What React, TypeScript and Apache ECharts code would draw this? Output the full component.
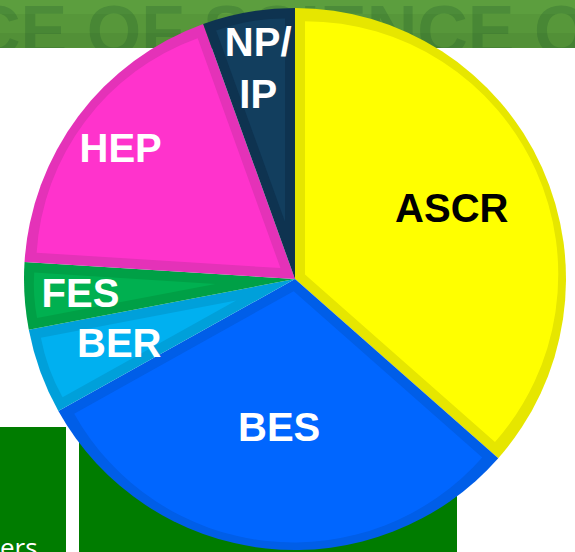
import React, { useEffect, useRef } from 'react';
import * as echarts from 'echarts';

// ---- data ----
const CATEGORIES = ['ASCR', 'BES', 'BER', 'FES', 'HEP', 'NP/IP'];
const SHARES = [36.5, 30.4, 5.1, 4.0, 18.5, 5.5];
const DISPLAY_LABELS = ['ASCR', 'BES', 'BER', 'FES', 'HEP', 'NP/\nIP'];

// ---- styles ----
const FILL = ['#ffff00', '#0066ff', '#00b0f0', '#00b050', '#ff33cc', '#123e5e'];
const EDGE = ['#e6e600', '#005ee8', '#00a0da', '#00a046', '#e432b8', '#0e3350'];
const LABEL_COLOR = ['#000000', '#ffffff', '#ffffff', '#ffffff', '#ffffff', '#ffffff'];
const LABEL_RADIUS = [169, 146, 184, 212, 215, 211];
const LABEL_LINE_HEIGHT = [42, 42, 42, 42, 42, 52];

const CX = 295;
const CY = 279;
const R = 271;
const BORDER = 10;
const FONT = "'Liberation Sans', Arial, sans-serif";

function buildOption() {
  const total = SHARES.reduce((a, b) => a + b, 0);

  const base = {
    type: 'pie',
    silent: true,
    z: 2,
    center: [CX, CY],
    radius: [0, R],
    startAngle: 90,
    clockwise: true,
    label: { show: false },
    labelLine: { show: false },
    emphasis: { disabled: true },
    itemStyle: { borderWidth: 0 },
    data: SHARES.map((v, i) => ({ name: CATEGORIES[i], value: v, itemStyle: { color: EDGE[i] } })),
  };

  let cum = 0;
  const insets = SHARES.map((v, i) => {
    const a0 = (360 * cum) / total;
    const sweep = (360 * v) / total;
    cum += v;
    const half = ((sweep / 2) * Math.PI) / 180;
    const mid = ((a0 + sweep / 2) * Math.PI) / 180;
    const s = BORDER / Math.sin(half);
    const rr = R - BORDER - (s * (1 + Math.cos(half))) / 2;
    return {
      type: 'pie',
      silent: true,
      z: 3,
      center: [CX + s * Math.sin(mid), CY - s * Math.cos(mid)],
      radius: [0, rr],
      startAngle: 90 - a0,
      clockwise: true,
      label: { show: false },
      labelLine: { show: false },
      emphasis: { disabled: true },
      itemStyle: { borderWidth: 0 },
      data: [
        { name: CATEGORIES[i], value: v, itemStyle: { color: FILL[i] } },
        { name: 'rest', value: total - v, itemStyle: { color: 'rgba(0,0,0,0)' } },
      ],
    };
  });

  const labels = SHARES.map((_, i) => ({
    type: 'pie',
    silent: true,
    z: 4,
    center: [CX, CY],
    radius: [LABEL_RADIUS[i] - 1, LABEL_RADIUS[i] + 1],
    startAngle: 90,
    clockwise: true,
    labelLine: { show: false },
    emphasis: { disabled: true },
    itemStyle: { color: 'rgba(0,0,0,0)', borderWidth: 0 },
    data: SHARES.map((w, j) => ({
      name: CATEGORIES[j],
      value: w,
      label: {
        show: j === i,
        position: 'inside',
        rotate: 0,
        formatter: DISPLAY_LABELS[j],
        color: LABEL_COLOR[j],
        fontSize: 40,
        fontWeight: 'bold',
        fontFamily: FONT,
        lineHeight: LABEL_LINE_HEIGHT[j],
        textBorderWidth: 0,
      },
    })),
  }));

  const graphic = [
    { type: 'rect', z: 0, shape: { x: 0, y: 0, width: 575, height: 48 }, style: { fill: '#5c9e3e' } },
    {
      type: 'text',
      z: 0,
      x: -30,
      y: 31,
      style: {
        text: 'CE OF SCIENCE O',
        font: `bold 70px ${FONT}`,
        fill: '#4c8c39',
        verticalAlign: 'middle',
        align: 'left',
      },
    },
    { type: 'rect', z: 0, shape: { x: 0, y: 14, width: 575, height: 19 }, style: { fill: 'rgba(30,70,20,0.07)' } },
    { type: 'rect', z: 0, shape: { x: 0, y: 33, width: 575, height: 15 }, style: { fill: 'rgba(30,70,20,0.15)' } },
    { type: 'rect', z: 0, shape: { x: 0, y: 48, width: 575, height: 20 }, style: { fill: '#ffffff' } },
    { type: 'rect', z: 0, shape: { x: 0, y: 427, width: 66, height: 125 }, style: { fill: '#007c00' } },
    { type: 'rect', z: 0, shape: { x: 79, y: 427, width: 378, height: 125 }, style: { fill: '#007c00' } },
    {
      type: 'text',
      z: 0,
      x: 0,
      y: 547,
      style: {
        text: 'ers',
        font: "26px 'Open Sans', sans-serif",
        fill: '#ffffff',
        verticalAlign: 'middle',
        align: 'left',
      },
    },
  ];

  return {
    animation: false,
    backgroundColor: '#ffffff',
    graphic,
    series: [base, ...insets, ...labels],
  };
}

export default function App() {
  const ref = useRef<HTMLDivElement>(null);
  useEffect(() => {
    if (!ref.current) return;
    const chart = echarts.init(ref.current, null, { renderer: 'svg' });
    chart.setOption(buildOption() as any);
    return () => chart.dispose();
  }, []);
  return (
    <div
      ref={ref}
      style={{ position: 'absolute', left: 0, top: 0, width: 575, height: 552, background: '#ffffff' }}
    />
  );
}
